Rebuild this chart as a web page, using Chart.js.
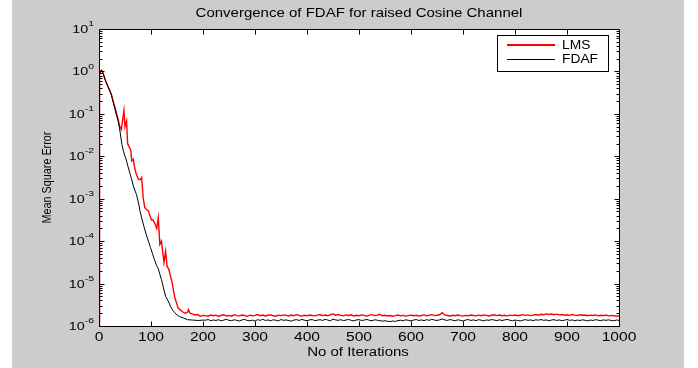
<!DOCTYPE html>
<html><head><meta charset="utf-8">
<script src="https://cdn.jsdelivr.net/npm/chart.js@4/dist/chart.umd.min.js"></script>
<style>html,body{margin:0;padding:0;background:#fff}#wrap{width:698px;height:368px}</style>
</head><body><div id="wrap"><canvas id="c" width="698" height="368"></canvas></div>
<script>
const chartTitle = 'Convergence of FDAF for raised Cosine Channel';
const xAxisTitle = 'No of Iterations';
const yAxisTitle = 'Mean Square Error';
const seriesNames = ['LMS', 'FDAF'];
const seriesColors = ['#ff0000', '#000000'];
const xTickValues = [0, 100, 200, 300, 400, 500, 600, 700, 800, 900, 1000];
const yTickValues = [1e-6, 1e-5, 1e-4, 1e-3, 1e-2, 1e-1, 1, 10];
const yTickExponents = ['-6', '-5', '-4', '-3', '-2', '-1', '0', '1'];

const lmsIter = [0,1,3,5,8,12,16,20,24,28,31,34,37,40,43,46,48,50,53,55,58,61,63,66,69,72,76,79,82,85,88,91,95,98,101,104,108,111,114,117,120,123,125,128,131,134,137,140,143,146,149,152,156,160,165,170,172,175,180,185,190,195,200];
const lmsMse = [1e-6,0.891,1.0,1.07,0.891,0.631,0.479,0.372,0.282,0.182,0.138,0.1,0.0708,0.0501,0.0427,0.0794,0.12,0.0501,0.0676,0.02,0.0166,0.0141,0.00776,0.00851,0.00501,0.00372,0.00282,0.00282,0.00316,0.00105,6.17e-4,5.62e-4,5.13e-4,3.98e-4,3.16e-4,3.16e-4,2.51e-4,2.0e-4,3.55e-4,8.32e-5,1e-4,5.01e-5,3.16e-5,5.75e-5,2.51e-5,2.24e-5,1.58e-5,1.15e-5,7.08e-6,4.57e-6,3.55e-6,2.69e-6,2.4e-6,2.19e-6,2.0e-6,2.09e-6,2.45e-6,2.0e-6,1.91e-6,1.82e-6,1.86e-6,1.70e-6,1.78e-6];

const fdafIter = [0,1,3,5,8,12,16,20,24,28,31,34,37,40,44,47,50,53,56,60,63,66,69,72,76,79,83,87,91,95,99,103,107,111,114,117,120,124,128,133,138,142,146,150,155,162,170,180,191,200];
const fdafMse = [1e-6,0.891,1.0,1.07,0.891,0.631,0.479,0.372,0.275,0.174,0.126,0.0891,0.0676,0.0417,0.0191,0.0132,0.01,0.00776,0.00562,0.00372,0.00282,0.002,0.00158,0.00126,7.94e-4,5.01e-4,3.16e-4,2.09e-4,1.41e-4,1e-4,7.08e-5,5.01e-5,3.55e-5,2.63e-5,2.24e-5,1.66e-5,1.26e-5,7.94e-6,5.01e-6,3.89e-6,2.82e-6,2.34e-6,2.04e-6,1.82e-6,1.66e-6,1.55e-6,1.41e-6,1.38e-6,1.35e-6,1.38e-6];

const tailIter = [205,210,215,220,225,230,235,240,245,250,255,260,265,270,275,280,285,290,295,300,
305,310,315,320,325,330,335,340,345,350,355,360,365,370,375,380,385,390,395,400,
405,410,415,420,425,430,435,440,445,450,455,460,465,470,475,480,485,490,495,500,
505,510,515,520,525,530,535,540,545,550,555,560,565,570,575,580,585,590,595,600,
605,610,615,620,625,630,635,640,645,650,655,660,665,670,675,680,685,690,695,700,
705,710,715,720,725,730,735,740,745,750,755,760,765,770,775,780,785,790,795,800,
805,810,815,820,825,830,835,840,845,850,855,860,865,870,875,880,885,890,895,900,
905,910,915,920,925,930,935,940,945,950,955,960,965,970,975,980,985,990,995,1000];
const lmsTail = [1.76e-6,1.70e-6,1.82e-6,1.75e-6,1.80e-6,1.68e-6,1.79e-6,1.84e-6,1.72e-6,1.78e-6,
1.70e-6,1.85e-6,1.76e-6,1.73e-6,1.81e-6,1.77e-6,1.69e-6,1.80e-6,1.74e-6,1.78e-6,
1.86e-6,1.75e-6,1.81e-6,1.72e-6,1.79e-6,1.84e-6,1.74e-6,1.70e-6,1.80e-6,1.76e-6,
1.83e-6,1.78e-6,1.72e-6,1.81e-6,1.75e-6,1.85e-6,1.77e-6,1.71e-6,1.79e-6,1.74e-6,
1.82e-6,1.77e-6,1.73e-6,1.80e-6,1.86e-6,1.76e-6,1.81e-6,1.74e-6,1.84e-6,1.93e-6,
1.80e-6,1.87e-6,1.78e-6,1.73e-6,1.82e-6,1.77e-6,1.84e-6,1.72e-6,1.79e-6,1.75e-6,
1.83e-6,1.78e-6,1.71e-6,1.80e-6,1.85e-6,1.76e-6,1.81e-6,1.88e-6,1.74e-6,1.79e-6,
1.72e-6,1.77e-6,1.70e-6,1.75e-6,1.81e-6,1.73e-6,1.78e-6,1.71e-6,1.76e-6,1.80e-6,
1.74e-6,1.79e-6,1.72e-6,1.77e-6,1.83e-6,1.75e-6,1.80e-6,1.85e-6,1.76e-6,1.79e-6,
1.84e-6,2.05e-6,1.82e-6,1.77e-6,1.72e-6,1.79e-6,1.74e-6,1.81e-6,1.76e-6,1.71e-6,
1.78e-6,1.74e-6,1.82e-6,1.77e-6,1.73e-6,1.80e-6,1.75e-6,1.83e-6,1.78e-6,1.72e-6,
1.79e-6,1.84e-6,1.76e-6,1.81e-6,1.74e-6,1.79e-6,1.73e-6,1.80e-6,1.76e-6,1.82e-6,
1.75e-6,1.79e-6,1.85e-6,1.78e-6,1.83e-6,1.76e-6,1.81e-6,1.86e-6,1.80e-6,1.89e-6,
1.84e-6,1.93e-6,1.87e-6,1.91e-6,1.85e-6,1.90e-6,1.83e-6,1.87e-6,1.80e-6,1.84e-6,
1.78e-6,1.86e-6,1.81e-6,1.77e-6,1.84e-6,1.79e-6,1.82e-6,1.75e-6,1.80e-6,1.77e-6,
1.83e-6,1.74e-6,1.79e-6,1.76e-6,1.81e-6,1.73e-6,1.78e-6,1.75e-6,1.70e-6,1.74e-6];
const fdafTail = [1.37e-6,1.42e-6,1.33e-6,1.39e-6,1.35e-6,1.41e-6,1.32e-6,1.38e-6,1.44e-6,1.36e-6,
1.34e-6,1.40e-6,1.36e-6,1.31e-6,1.39e-6,1.43e-6,1.35e-6,1.33e-6,1.38e-6,1.30e-6,
1.41e-6,1.36e-6,1.44e-6,1.35e-6,1.39e-6,1.33e-6,1.40e-6,1.37e-6,1.32e-6,1.42e-6,
1.36e-6,1.39e-6,1.34e-6,1.30e-6,1.38e-6,1.41e-6,1.35e-6,1.43e-6,1.37e-6,1.33e-6,
1.39e-6,1.42e-6,1.34e-6,1.37e-6,1.41e-6,1.35e-6,1.44e-6,1.38e-6,1.33e-6,1.45e-6,
1.39e-6,1.36e-6,1.41e-6,1.34e-6,1.38e-6,1.43e-6,1.36e-6,1.32e-6,1.39e-6,1.41e-6,
1.35e-6,1.38e-6,1.43e-6,1.36e-6,1.33e-6,1.40e-6,1.37e-6,1.34e-6,1.30e-6,1.33e-6,
1.29e-6,1.27e-6,1.31e-6,1.28e-6,1.34e-6,1.37e-6,1.33e-6,1.40e-6,1.36e-6,1.32e-6,
1.38e-6,1.42e-6,1.35e-6,1.39e-6,1.34e-6,1.41e-6,1.36e-6,1.44e-6,1.38e-6,1.35e-6,
1.40e-6,1.46e-6,1.39e-6,1.35e-6,1.42e-6,1.37e-6,1.33e-6,1.40e-6,1.36e-6,1.31e-6,
1.38e-6,1.42e-6,1.35e-6,1.39e-6,1.34e-6,1.41e-6,1.37e-6,1.32e-6,1.39e-6,1.36e-6,
1.42e-6,1.38e-6,1.34e-6,1.40e-6,1.35e-6,1.39e-6,1.43e-6,1.37e-6,1.33e-6,1.38e-6,
1.35e-6,1.31e-6,1.37e-6,1.41e-6,1.36e-6,1.39e-6,1.34e-6,1.40e-6,1.37e-6,1.42e-6,
1.36e-6,1.39e-6,1.33e-6,1.38e-6,1.41e-6,1.35e-6,1.39e-6,1.34e-6,1.37e-6,1.42e-6,
1.36e-6,1.39e-6,1.33e-6,1.38e-6,1.35e-6,1.40e-6,1.36e-6,1.32e-6,1.38e-6,1.35e-6,
1.41e-6,1.37e-6,1.34e-6,1.39e-6,1.36e-6,1.40e-6,1.35e-6,1.33e-6,1.38e-6,1.36e-6];

const FONT = "'Liberation Sans', Arial, Helvetica, sans-serif";
function toPoints(xs, ys) { return xs.map((x, i) => ({ x: x, y: ys[i] })); }
function drawText(ctx, s, x, y, size, opts) {
  const o = Object.assign({ align: 'center', baseline: 'middle', sx: 1, sy: 1, rot: 0, color: '#000' }, opts || {});
  ctx.save();
  ctx.translate(x, y);
  if (o.rot) ctx.rotate(o.rot);
  ctx.scale(o.sx, o.sy);
  ctx.font = size + 'px ' + FONT;
  ctx.fillStyle = o.color;
  ctx.textAlign = o.align;
  ctx.textBaseline = o.baseline;
  ctx.fillText(s, 0, 0);
  ctx.restore();
}
function textWidth(ctx, s, size) {
  ctx.save(); ctx.font = size + 'px ' + FONT;
  const w = ctx.measureText(s).width; ctx.restore(); return w;
}

const frame = {
  id: 'frame',
  beforeDraw(chart) {
    const ctx = chart.ctx, a = chart.chartArea;
    ctx.save();
    ctx.fillStyle = '#ffffff'; ctx.fillRect(0, 0, chart.width, chart.height);
    ctx.fillStyle = '#cccccc'; ctx.fillRect(12, 0, 672, chart.height);
    ctx.fillStyle = '#ffffff'; ctx.fillRect(a.left, a.top, a.right - a.left, a.bottom - a.top);
    ctx.restore();
  },
  afterDraw(chart) {
    const ctx = chart.ctx, a = chart.chartArea, xs = chart.scales.x, ys = chart.scales.y;
    const L = Math.floor(a.left) + 0.5, R = Math.floor(a.right) + 0.5;
    const T = Math.floor(a.top) + 0.5, B = Math.floor(a.bottom) + 0.5;
    ctx.save();
    ctx.strokeStyle = '#000'; ctx.lineWidth = 1;
    ctx.beginPath();
    ctx.rect(L, T, R - L, B - T);
    xTickValues.forEach(v => {
      const px = Math.round(xs.getPixelForValue(v)) + 0.5;
      ctx.moveTo(px, B); ctx.lineTo(px, B - 5);
      ctx.moveTo(px, T); ctx.lineTo(px, T + 5);
    });
    yTickValues.forEach(v => {
      const py = Math.round(ys.getPixelForValue(v)) + 0.5;
      ctx.moveTo(L, py); ctx.lineTo(L + 5, py);
      ctx.moveTo(R, py); ctx.lineTo(R - 5, py);
    });
    for (let i = 0; i < yTickValues.length - 1; i++) {
      for (let m = 2; m <= 9; m++) {
        const py = Math.round(ys.getPixelForValue(m * yTickValues[i])) + 0.5;
        ctx.moveTo(L, py); ctx.lineTo(L + 3, py);
        ctx.moveTo(R, py); ctx.lineTo(R - 3, py);
      }
    }
    ctx.stroke();
    ctx.restore();

    xTickValues.forEach(v => {
      drawText(ctx, String(v), xs.getPixelForValue(v), 338, 12, { sx: 1.3 });
    });
    yTickValues.forEach((v, i) => {
      const py = ys.getPixelForValue(v);
      const e = yTickExponents[i];
      const wb = textWidth(ctx, '10', 11) * 1.3, we = textWidth(ctx, e, 8) * 1.3;
      const right = 94;
      drawText(ctx, '10', right - we - wb, py + 1, 11, { align: 'left', sx: 1.3 });
      drawText(ctx, e, right - we, py - 5, 8, { align: 'left', sx: 1.3 });
    });
    drawText(ctx, chartTitle, (a.left + a.right) / 2, 14, 12.5, { sx: 1.2 });
    drawText(ctx, xAxisTitle, (a.left + a.right) / 2 - 1, 353, 12.5, { sx: 1.2 });
    drawText(ctx, yAxisTitle, 47, (a.top + a.bottom) / 2, 10.8, { rot: -Math.PI / 2, sy: 1.2 });

    ctx.save();
    ctx.fillStyle = '#fff'; ctx.fillRect(497, 35, 111, 36);
    ctx.strokeStyle = '#000'; ctx.lineWidth = 1; ctx.strokeRect(497.5, 35.5, 111, 36);
    seriesNames.forEach((name, i) => {
      const y = 45 + i * 14;
      ctx.beginPath();
      ctx.strokeStyle = seriesColors[i];
      ctx.lineWidth = i === 0 ? 2 : 1;
      ctx.moveTo(507, i === 0 ? y : y + 0.5); ctx.lineTo(555, i === 0 ? y : y + 0.5);
      ctx.stroke();
      drawText(ctx, name, 562, y + 0.5, 12, { align: 'left', sx: 1.15 });
    });
    ctx.restore();
  }
};

new Chart(document.getElementById('c'), {
  type: 'line',
  data: {
    datasets: [
      { label: seriesNames[0], data: toPoints(lmsIter.concat(tailIter), lmsMse.concat(lmsTail)),
        borderColor: seriesColors[0], borderWidth: 1.4, pointRadius: 0, tension: 0, order: 2 },
      { label: seriesNames[1], data: toPoints(fdafIter.concat(tailIter), fdafMse.concat(fdafTail)),
        borderColor: seriesColors[1], borderWidth: 1, pointRadius: 0, tension: 0, order: 1 }
    ]
  },
  options: {
    responsive: false,
    animation: false,
    devicePixelRatio: 1,
    layout: { padding: { left: 0, right: 79, top: 29, bottom: 0 } },
    plugins: { legend: { display: false }, tooltip: { enabled: false }, title: { display: false } },
    scales: {
      x: { type: 'linear', min: 0, max: 1000, ticks: { display: false }, grid: { display: false }, border: { display: false },
           afterFit: s => { s.height = 42; } },
      y: { type: 'logarithmic', min: 1e-6, max: 10, ticks: { display: false }, grid: { display: false }, border: { display: false },
           afterFit: s => { s.width = 99; } }
    }
  },
  plugins: [frame]
});
</script></body></html>
